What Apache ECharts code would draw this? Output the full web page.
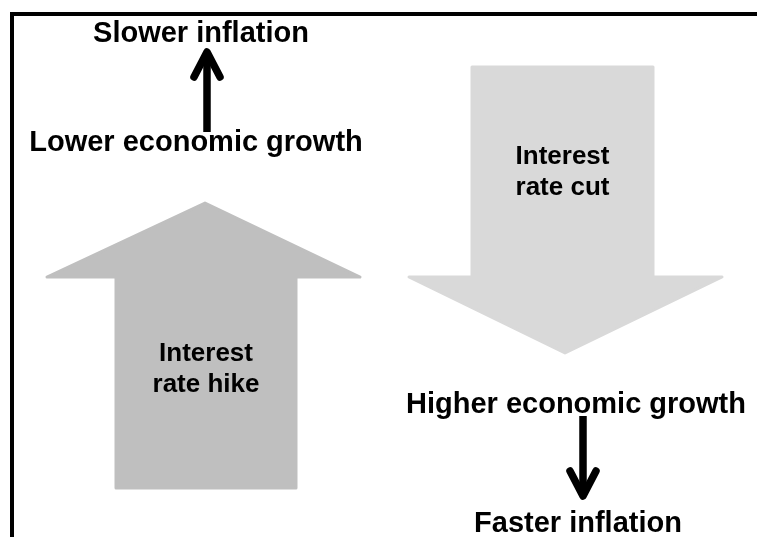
<!DOCTYPE html>
<html>
<head>
<meta charset="utf-8">
<script src="https://cdn.jsdelivr.net/npm/echarts@6/dist/echarts.min.js"></script>
<style>
  html, body { margin: 0; padding: 0; background: #ffffff; }
  #chart { width: 757px; height: 537px; }
</style>
</head>
<body>
<div id="chart"></div>
<script>
// Diagram data (units of the diagram's hidden axes)
const policyLabels = ['Interest\nrate hike', 'Interest\nrate cut'];
const policyShaftLeft = [116, 472];
const policyShaftRight = [296, 653];
const policyHeadLeft = [47, 409];
const policyHeadRight = [360, 722];
const policyHeadBase = [277, 277];
const policyTip = [203, 353];
const policyTipX = [205, 565];
const policyShaftEnd = [488, 67];
const policyLabelY = [369, 172];

const effectLabels = ['Slower inflation', 'Lower economic growth', 'Higher economic growth', 'Faster inflation'];
const effectX = [201, 196, 576, 578];
const effectY = [34, 143, 405, 524];

const linkX = [207, 583];
const linkFrom = [132, 416];
const linkTo = [52, 496];

const FONT = 'bold 29px "Liberation Sans", Arial, sans-serif';
const FONT_SMALL = 'bold 26px "Liberation Sans", Arial, sans-serif';
const policyColors = ['#bfbfbf', '#d9d9d9'];

const chart = echarts.init(document.getElementById('chart'), null, { renderer: 'canvas' });

const hiddenAxis = {
  axisTick: { show: false },
  axisLabel: { show: false },
  splitLine: { show: false }
};

chart.setOption({
  animation: false,
  backgroundColor: '#ffffff',
  grid: { left: 12, top: 14, right: 0, bottom: 0, containLabel: false },
  xAxis: Object.assign({
    type: 'value', min: 12, max: 757, position: 'top',
    axisLine: { show: true, onZero: false, lineStyle: { color: '#000', width: 4, cap: 'square' } }
  }, hiddenAxis),
  yAxis: Object.assign({
    type: 'value', min: 14, max: 537, inverse: true, position: 'left',
    axisLine: { show: true, onZero: false, lineStyle: { color: '#000', width: 4, cap: 'square' } }
  }, hiddenAxis),
  series: [
    {
      type: 'custom',
      name: 'policy',
      clip: false,
      data: policyLabels.map((l, i) => [i, 0]),
      renderItem: function (params, api) {
        const i = params.dataIndex;
        const pts = [
          [policyTipX[i], policyTip[i]],
          [policyHeadRight[i], policyHeadBase[i]],
          [policyShaftRight[i], policyHeadBase[i]],
          [policyShaftRight[i], policyShaftEnd[i]],
          [policyShaftLeft[i], policyShaftEnd[i]],
          [policyShaftLeft[i], policyHeadBase[i]],
          [policyHeadLeft[i], policyHeadBase[i]]
        ].map(p => api.coord(p));
        const c = api.coord([(policyShaftLeft[i] + policyShaftRight[i]) / 2, policyLabelY[i]]);
        return {
          type: 'group',
          children: [
            {
              type: 'polygon',
              shape: { points: pts },
              style: { fill: policyColors[i], stroke: policyColors[i], lineWidth: 3, lineJoin: 'round' }
            },
            {
              type: 'text',
              style: {
                text: policyLabels[i], x: c[0], y: c[1],
                font: FONT_SMALL, fill: '#000', align: 'center', verticalAlign: 'middle',
                lineHeight: 31
              }
            }
          ]
        };
      }
    },
    {
      type: 'custom',
      name: 'links',
      clip: false,
      data: linkX.map((x, i) => [i, 0]),
      renderItem: function (params, api) {
        const i = params.dataIndex;
        const dir = linkTo[i] < linkFrom[i] ? -1 : 1;
        const a = api.coord([linkX[i], linkFrom[i]]);
        const b = api.coord([linkX[i], linkTo[i]]);
        const wl = api.coord([linkX[i] - 13, linkTo[i] - dir * 25]);
        const wr = api.coord([linkX[i] + 13, linkTo[i] - dir * 25]);
        const st = { stroke: '#000', lineWidth: 7.5, lineCap: 'round', lineJoin: 'round', fill: null };
        return {
          type: 'group',
          children: [
            { type: 'polyline', shape: { points: [a, b] }, style: Object.assign({}, st, { lineCap: 'butt' }) },
            { type: 'polyline', shape: { points: [wl, b, wr] }, style: st }
          ]
        };
      }
    },
    {
      type: 'custom',
      name: 'effects',
      clip: false,
      data: effectLabels.map((l, i) => [i, 0]),
      renderItem: function (params, api) {
        const i = params.dataIndex;
        const c = api.coord([effectX[i], effectY[i]]);
        return {
          type: 'text',
          style: {
            text: effectLabels[i], x: c[0], y: c[1],
            font: FONT, fill: '#000', align: 'center', verticalAlign: 'middle'
          }
        };
      }
    }
  ]
});
</script>
</body>
</html>
